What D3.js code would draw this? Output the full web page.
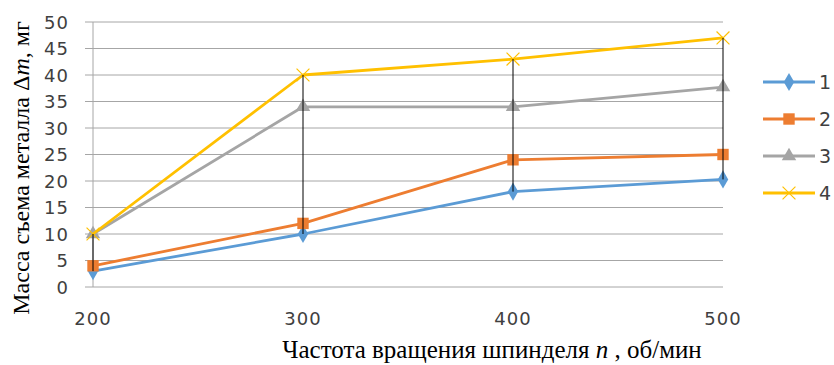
<!DOCTYPE html>
<html>
<head>
<meta charset="utf-8">
<script src="https://cdn.jsdelivr.net/npm/d3@7"></script>
<style>
  body { margin: 0; background: #fff; }
  svg { display: block; }
</style>
</head>
<body>
<div id="chart"></div>
<script>
// Data
var speeds = [200, 300, 400, 500]
var series1 = [3, 10, 18, 20.3]
var series2 = [4, 12, 24, 25]
var series3 = [10, 34, 34, 37.7]
var series4 = [10, 40, 43, 47]
var seriesNames = ['1', '2', '3', '4']
var yTicks = [0, 5, 10, 15, 20, 25, 30, 35, 40, 45, 50]

var allSeries = [series1, series2, series3, series4]
var colors = ['#5b9bd5', '#ed7d31', '#a5a5a5', '#ffc000']
var markers = [d3.symbolDiamond, d3.symbolSquare, d3.symbolTriangle, d3.symbolX]
var markerSizes = [95, 130, 90, 110]

var W = 834, H = 365
var svg = d3.select('#chart').append('svg')
    .attr('width', W).attr('height', H)

var xScale = d3.scalePoint().domain(speeds).range([93, 723])
var yScale = d3.scaleLinear().domain([0, 50]).range([287, 22])

// gridlines
svg.append('g').selectAll('line')
    .data(yTicks)
    .enter().append('line')
    .attr('x1', 85).attr('x2', 723)
    .attr('y1', d => yScale(d)).attr('y2', d => yScale(d))
    .attr('stroke', '#a6a6a6').attr('stroke-width', 1)

// vertical axis line
svg.append('line')
    .attr('x1', 93).attr('x2', 93)
    .attr('y1', yScale(50)).attr('y2', yScale(0))
    .attr('stroke', '#a6a6a6')

// y tick labels
svg.append('g').selectAll('text')
    .data(yTicks)
    .enter().append('text')
    .attr('x', 69)
    .attr('y', d => yScale(d) + 6.5)
    .attr('text-anchor', 'end')
    .attr('font-family', 'DejaVu Sans, Verdana, sans-serif')
    .attr('font-size', 18)
    .attr('letter-spacing', 1)
    .attr('fill', '#404040')
    .text(d => d)

// x tick labels
svg.append('g').selectAll('text')
    .data(speeds)
    .enter().append('text')
    .attr('x', d => xScale(d))
    .attr('y', 325)
    .attr('text-anchor', 'middle')
    .attr('font-family', 'DejaVu Sans, Verdana, sans-serif')
    .attr('font-size', 18)
    .attr('letter-spacing', 1)
    .attr('fill', '#404040')
    .text(d => d)

// series lines
var line = d3.line()
    .x((d, i) => xScale(speeds[i]))
    .y(d => yScale(d))

allSeries.forEach((s, k) => {
    svg.append('path')
        .datum(s)
        .attr('d', line)
        .attr('fill', 'none')
        .attr('stroke', colors[k])
        .attr('stroke-width', 2.8)
        .attr('stroke-linejoin', 'round')

    svg.append('g').selectAll('path')
        .data(s)
        .enter().append('path')
        .attr('transform', (d, i) => 'translate(' + xScale(speeds[i]) + ',' + yScale(d) + ')')
        .attr('d', d3.symbol().type(markers[k]).size(markerSizes[k]))
        .attr('fill', colors[k])
        .attr('stroke', k == 3 ? colors[k] : 'none')
        .attr('stroke-width', 1.2)
})

// high-low lines
svg.append('g').selectAll('line')
    .data(speeds)
    .enter().append('line')
    .attr('x1', d => xScale(d)).attr('x2', d => xScale(d))
    .attr('y1', (d, i) => yScale(d3.max(allSeries, s => s[i])))
    .attr('y2', (d, i) => yScale(d3.min(allSeries, s => s[i])))
    .attr('stroke', '#000').attr('stroke-width', 1)

// legend
var legend = svg.append('g')
var legendY = [82, 119, 156, 193]
seriesNames.forEach((name, k) => {
    var g = legend.append('g').attr('transform', 'translate(0,' + legendY[k] + ')')
    g.append('line')
        .attr('x1', 763).attr('x2', 815)
        .attr('stroke', colors[k]).attr('stroke-width', 2.8)
    g.append('path')
        .attr('transform', 'translate(789,0)')
        .attr('d', d3.symbol().type(markers[k]).size(markerSizes[k]))
        .attr('fill', colors[k])
        .attr('stroke', k == 3 ? colors[k] : 'none')
        .attr('stroke-width', 1.2)
    g.append('text')
        .attr('x', 819).attr('y', 7)
        .attr('font-family', 'DejaVu Sans, Verdana, sans-serif')
        .attr('font-size', 19)
        .attr('fill', '#404040')
        .text(name)
})

// axis titles
var xTitle = svg.append('text')
    .attr('x', 492).attr('y', 358)
    .attr('text-anchor', 'middle')
    .attr('font-family', 'Liberation Serif, Times New Roman, serif')
    .attr('font-size', 25)
    .attr('fill', '#000')
xTitle.append('tspan').text('Частота вращения шпинделя ')
xTitle.append('tspan').attr('font-style', 'italic').text('n')
xTitle.append('tspan').text(' , об/мин')

var yTitle = svg.append('text')
    .attr('transform', 'translate(29,168) rotate(-90)')
    .attr('text-anchor', 'middle')
    .attr('font-family', 'Liberation Serif, Times New Roman, serif')
    .attr('font-size', 24)
    .attr('fill', '#000')
yTitle.append('tspan').text('Масса съема металла Δ')
yTitle.append('tspan').attr('font-style', 'italic').text('m')
yTitle.append('tspan').text(', мг')
</script>
</body>
</html>
